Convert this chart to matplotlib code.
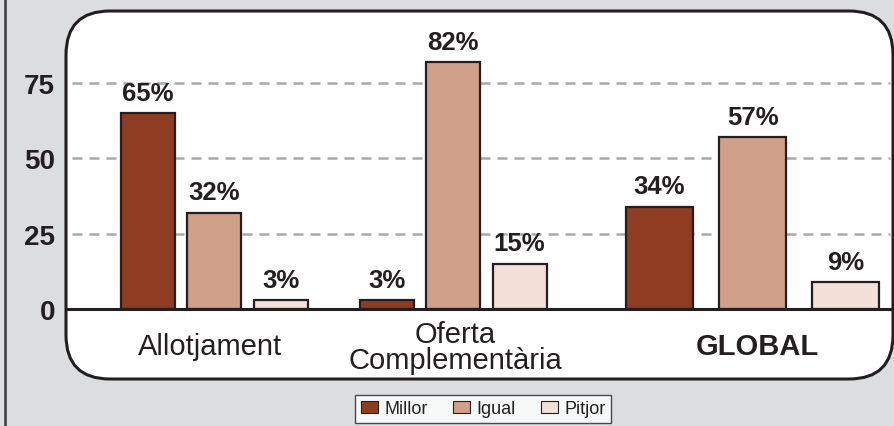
import matplotlib.pyplot as plt
from matplotlib.patches import FancyBboxPatch, Rectangle
from matplotlib.lines import Line2D
from matplotlib.transforms import IdentityTransform

# Data
categories = ['Allotjament', 'Oferta\nComplementària', 'GLOBAL']
series = ['Millor', 'Igual', 'Pitjor']
millor = [65, 3, 34]
igual = [32, 82, 57]
pitjor = [3, 15, 9]
yticks = [0, 25, 50, 75]

colors = ['#8F3D22', '#D1A08A', '#F2E0D9']
edge = '#231F20'
bg = '#DCDDDF'

W, H = 894, 427
fig = plt.figure(figsize=(W / 100, H / 100), dpi=100, facecolor=bg)
plt.rcParams['font.family'] = ['Liberation Sans', 'DejaVu Sans']

# panel region in pixels
px_l, px_r, px_t, px_b = 66, 893, 12, 380
ax = fig.add_axes([px_l / W, 1 - px_b / H, (px_r - px_l) / W, (px_b - px_t) / H])
ax.set_xlim(px_l, px_r)
ppu = 3.013  # pixels per y unit
ax.set_ylim(-(px_b - 310) / ppu, (310 - px_t) / ppu)
ax.patch.set_visible(False)
for s in ax.spines.values():
    s.set_visible(False)

# rounded white panel (pixel coordinates)
panel = FancyBboxPatch((px_l, H - px_b), px_r - px_l, px_b - px_t,
                       boxstyle='round,pad=0,rounding_size=44',
                       transform=IdentityTransform(), facecolor='white',
                       edgecolor=edge, linewidth=2.2, zorder=0, clip_on=False)
ax.add_patch(panel)

# outer frame line on left
fig.add_artist(Line2D([4.5 / W, 4.5 / W], [0, 1], transform=fig.transFigure,
                      color='#3a3a3a', lw=1.8))

# grid
for y in yticks[1:]:
    ax.plot([72, 890], [y, y], color='#A7A9AC', lw=1.8,
            linestyle=(0, (4, 2.8)), zorder=1, solid_capstyle='butt')
ax.plot([px_l, px_r], [0, 0], color=edge, lw=2.2, zorder=4)

# bar layout (pixels)
centres = [214, 453, 752.5]
offsets = [66.5, 66.5, 93]
widths = [54, 54, 67]

values = [millor, igual, pitjor]
for si, vals in enumerate(values):
    for ci, v in enumerate(vals):
        x = centres[ci] + (si - 1) * offsets[ci]
        ax.bar(x, v, width=widths[ci], color=colors[si], edgecolor=edge,
               linewidth=1.6, zorder=3)
        ax.annotate(f'{v}%', (x, v), xytext=(0, 6), textcoords='offset points',
                    ha='center', va='bottom', fontsize=18.5, fontweight='bold',
                    color=edge)

# category labels
def py(p):
    return -(p - 310) / ppu

ax.text(210, py(347), categories[0], ha='center', va='center', fontsize=21, color=edge)
ax.text(455, py(348), categories[1], ha='center', va='center', fontsize=21,
        color=edge, linespacing=0.95)
ax.text(757, py(347), categories[2], ha='center', va='center', fontsize=21,
        fontweight='bold', color=edge)

ax.set_xticks([])
ax.set_yticks(yticks)
ax.set_yticklabels([str(t) for t in yticks], fontsize=20, fontweight='bold', color=edge)
ax.tick_params(axis='y', length=0, pad=8)

handles = [Rectangle((0, 0), 1, 1, facecolor=c, edgecolor=edge, lw=0.8) for c in colors]
leg = fig.legend(handles, series, loc='center', bbox_to_anchor=(483 / W, 1 - 410 / H),
                 ncol=3, frameon=True, fancybox=False, fontsize=13,
                 handlelength=0.95, handleheight=0.6, handletextpad=0.35,
                 columnspacing=1.4, borderpad=0.3, labelcolor=edge)
leg.get_frame().set_edgecolor(edge)
leg.get_frame().set_linewidth(1.0)

fig.savefig('out.png', dpi=100, facecolor=bg)
